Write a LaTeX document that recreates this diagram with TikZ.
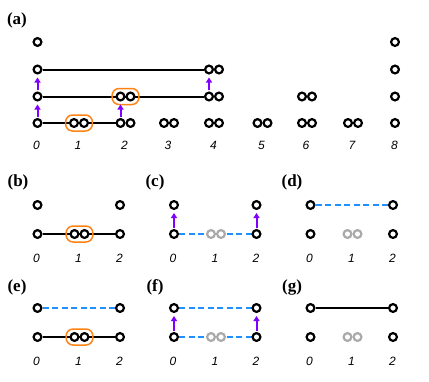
\documentclass[tikz,border=0pt]{standalone}
\usepackage{fontspec}
\setmainfont{Liberation Serif}
\newfontfamily\lsans{Liberation Sans}
\usetikzlibrary{backgrounds,fit,arrows.meta}
\definecolor{myorange}{RGB}{255,130,20}
\definecolor{myblue}{RGB}{30,144,255}
\definecolor{mypurple}{RGB}{128,0,255}
\definecolor{mygray}{RGB}{170,170,170}
\tikzset{
  ring/.style={circle,draw=black,fill=white,line width=2.2pt,minimum size=7.8pt,inner sep=0pt},
  gring/.style={ring,draw=mygray},
  obox/.style={draw=myorange,line width=1.5pt,rounded corners=7pt,inner xsep=3.4pt,inner ysep=3pt},
  solidline/.style={draw=black,line width=2pt},
  dashline/.style={draw=myblue,line width=1.5pt,dash pattern=on 6pt off 3.5pt},
  uparr/.style={draw=mypurple,line width=2pt,-{Triangle[length=5pt,width=6pt]},shorten <=1.2pt,shorten >=3pt},
  num/.style={font=\lsans\itshape\fontsize{12}{12}\selectfont,inner sep=0pt},
  plabel/.style={font=\bfseries\fontsize{17}{17}\selectfont,inner sep=0pt}
}
\newcommand{\mkpair}[4][ring]{%
  \node[#1] (#2a) at ({#3-5},{#4}) {};
  \node[#1] (#2b) at ({#3+5},{#4}) {};}
\begin{document}
\begin{tikzpicture}[x=1pt,y=-1pt]
\useasboundingbox (0,0) rectangle (429,381);
% ---------------- (a)
\node[plabel] (la) at (17,20) {(a)};
\foreach \r/\y in {0/123,1/96.5,2/69.5,3/42}{
  \node[ring] (s0r\r) at (37.5,\y) {};
  \node[ring] (s8r\r) at (395,\y) {};
}
\mkpair{p1r0}{79}{123}
\mkpair{p2r0}{125.5}{123}
\mkpair{p2r1}{125.5}{96.5}
\mkpair{p3r0}{169}{123}
\mkpair{p4r0}{214}{123}
\mkpair{p4r1}{214}{96.5}
\mkpair{p4r2}{214}{69.5}
\mkpair{p5r0}{262.5}{123}
\mkpair{p6r0}{307}{123}
\mkpair{p6r1}{307}{96.5}
\mkpair{p7r0}{353}{123}
\node[obox,fit=(p1r0a)(p1r0b)] (bx1) {};
\node[obox,fit=(p2r1a)(p2r1b)] (bx2) {};
\begin{scope}[on background layer]
  \draw[solidline] (s0r0) -- (p2r0a);
  \draw[solidline] (s0r1) -- (p4r1a);
  \draw[solidline] (s0r2) -- (p4r2a);
\end{scope}
\draw[uparr] (s0r0) -- (s0r1);
\draw[uparr] (s0r1) -- (s0r2);
\draw[uparr] (p2r0a) -- (p2r1a);
\draw[uparr] (p4r1a) -- (p4r2a);
\foreach \t/\x in {0/36.5,1/78,2/124.5,3/168,4/213.5,5/261.5,6/306,7/352,8/394.5}{
  \node[num] (na\t) at (\x,145.5) {\t};
}
% ---------------- (b)
\node[plabel] (lb) at (18,182) {(b)};
\node[ring] (bt0) at (37.5,205) {};
\node[ring] (bt2) at (120,205) {};
\node[ring] (bb0) at (37.5,234) {};
\node[ring] (bb2) at (120,234) {};
\mkpair{bp}{79.5}{234}
\node[obox,fit=(bpa)(bpb)] (bbx) {};
\begin{scope}[on background layer]
  \draw[solidline] (bb0) -- (bb2);
\end{scope}
% ---------------- (c)
\node[plabel] (lc) at (155,182) {(c)};
\node[ring] (ct0) at (174,205) {};
\node[ring] (ct2) at (256.5,205) {};
\node[ring] (cb0) at (174,234) {};
\node[ring] (cb2) at (256.5,234) {};
\mkpair[gring]{cp}{216}{234}
\begin{scope}[on background layer]
  \draw[dashline] (cb0) -- (cb2);
\end{scope}
\draw[uparr] (cb0) -- (ct0);
\draw[uparr] (cb2) -- (ct2);
% ---------------- (d)
\node[plabel] (ld) at (292,182) {(d)};
\node[ring] (dt0) at (310.5,205) {};
\node[ring] (dt2) at (393,205) {};
\node[ring] (db0) at (310.5,234) {};
\node[ring] (db2) at (393,234) {};
\mkpair[gring]{dp}{352.5}{234}
\begin{scope}[on background layer]
  \draw[dashline] (dt0) -- (dt2);
\end{scope}
% ---------------- (e)
\node[plabel] (le) at (17,287) {(e)};
\node[ring] (et0) at (37.5,308) {};
\node[ring] (et2) at (120,308) {};
\node[ring] (eb0) at (37.5,337) {};
\node[ring] (eb2) at (120,337) {};
\mkpair{ep}{79.5}{337}
\node[obox,fit=(epa)(epb)] (ebx) {};
\begin{scope}[on background layer]
  \draw[dashline] (et0) -- (et2);
  \draw[solidline] (eb0) -- (eb2);
\end{scope}
% ---------------- (f)
\node[plabel] (lf) at (155,287) {(f)};
\node[ring] (ft0) at (174,308) {};
\node[ring] (ft2) at (256.5,308) {};
\node[ring] (fb0) at (174,337) {};
\node[ring] (fb2) at (256.5,337) {};
\mkpair[gring]{fp}{216}{337}
\begin{scope}[on background layer]
  \draw[dashline] (ft0) -- (ft2);
  \draw[dashline] (fb0) -- (fb2);
\end{scope}
\draw[uparr] (fb0) -- (ft0);
\draw[uparr] (fb2) -- (ft2);
% ---------------- (g)
\node[plabel] (lg) at (292,287) {(g)};
\node[ring] (gt0) at (310.5,308) {};
\node[ring] (gt2) at (393,308) {};
\node[ring] (gb0) at (310.5,337) {};
\node[ring] (gb2) at (393,337) {};
\mkpair[gring]{gp}{352.5}{337}
\begin{scope}[on background layer]
  \draw[solidline] (gt0) -- (gt2);
\end{scope}
% ---------------- small panel numbers
\foreach \p/\o/\y in {b/0/258,c/136.5/258,d/273/258,e/0/361,f/136.5/361,g/273/361}{
  \node[num] (n\p0) at ({36.5+\o},\y) {0};
  \node[num] (n\p1) at ({78.5+\o},\y) {1};
  \node[num] (n\p2) at ({119.5+\o},\y) {2};
}
\end{tikzpicture}
\end{document}
